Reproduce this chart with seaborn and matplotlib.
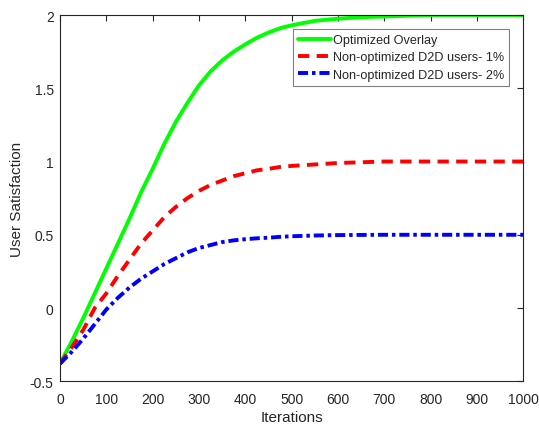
import numpy as np
import pandas as pd
import matplotlib
matplotlib.use("Agg")
import matplotlib.pyplot as plt
import seaborn as sns
from matplotlib.lines import Line2D

iterations = [0, 25, 50, 75, 100, 125, 150, 175, 200, 225, 250, 275, 300, 325, 350, 375,
              400, 425, 450, 475, 500, 550, 600, 650, 700, 800, 900, 1000]
optimized = [-0.38, -0.23, -0.07, 0.10, 0.27, 0.44, 0.61, 0.79, 0.95, 1.12, 1.27, 1.40,
             1.52, 1.615, 1.69, 1.75, 1.80, 1.845, 1.88, 1.91, 1.93, 1.96, 1.975, 1.985,
             1.99, 2.0, 2.0, 2.0]
nonopt_1 = [-0.38, -0.27, -0.15, 0.0, 0.10, 0.22, 0.33, 0.44, 0.53, 0.62, 0.69, 0.75,
            0.80, 0.84, 0.87, 0.90, 0.92, 0.94, 0.95, 0.963, 0.97, 0.98, 0.99, 0.995,
            1.0, 1.0, 1.0, 1.0]
nonopt_2 = [-0.38, -0.30, -0.21, -0.11, -0.01, 0.07, 0.14, 0.20, 0.25, 0.30, 0.34, 0.38,
            0.41, 0.43, 0.45, 0.462, 0.47, 0.476, 0.48, 0.486, 0.49, 0.495, 0.498,
            0.499, 0.5, 0.5, 0.5, 0.5]

labels = ["Optimized Overlay", "Non-optimized D2D users- 1%", "Non-optimized D2D users- 2%"]
colors = ["#00ff00", "#ff0000", "#0000ff"]
x_ticks = [0, 100, 200, 300, 400, 500, 600, 700, 800, 900, 1000]
y_ticks = [-0.5, 0, 0.5, 1, 1.5, 2]
y_ticklabels = ["-0.5", "0", "0.5", "1", "1.5", "2"]

n = len(iterations)
df = pd.DataFrame({
    "Iterations": iterations * 3,
    "User Satisfaction": optimized + nonopt_1 + nonopt_2,
    "series": [labels[0]] * n + [labels[1]] * n + [labels[2]] * n,
})

sns.set_style("white")
plt.rcParams["font.family"] = ["Liberation Sans", "DejaVu Sans"]
plt.rcParams["font.size"] = 10

fig = plt.figure(figsize=(5.39, 4.27), dpi=100)
ax = fig.add_axes([0.1113, 0.1047, 0.8596, 0.8578])

lw = 2.8
red_dash = (2.9, 1.9)
blue_dash = (2.6, 1.0, 0.9, 1.0)
sns.lineplot(data=df, x="Iterations", y="User Satisfaction", hue="series",
             palette=dict(zip(labels, colors)), ax=ax, linewidth=lw, legend=False)
lines = ax.get_lines()
for ln in lines:
    ln.set_solid_joinstyle("round")
    ln.set_dash_joinstyle("round")
lines[0].set_linestyle("-")
lines[1].set_dashes(red_dash)
lines[2].set_dashes(blue_dash)

ax.set_xlim(0, 1000)
ax.set_ylim(-0.5, 2)
ax.set_xticks(x_ticks)
ax.set_yticks(y_ticks)
ax.set_yticklabels(y_ticklabels)
axcol = "#262626"
for s in ax.spines.values():
    s.set_visible(True)
    s.set_color(axcol)
    s.set_linewidth(0.8)
ax.tick_params(direction="in", length=4, width=0.8, top=True, right=True,
               colors=axcol, labelcolor=axcol, labelsize=10)
ax.tick_params(axis="x", pad=7.5)
ax.tick_params(axis="y", pad=4.5)
ax.set_xlabel("Iterations", fontsize=11, color=axcol, labelpad=3)
ax.set_ylabel("User Satisfaction", fontsize=11, color=axcol, labelpad=4)

handles = [
    Line2D([], [], color=colors[0], linewidth=lw, linestyle="-"),
    Line2D([], [], color=colors[1], linewidth=lw, dashes=red_dash),
    Line2D([], [], color=colors[2], linewidth=lw, dashes=blue_dash),
]
leg = ax.legend(handles, labels, loc="upper right", bbox_to_anchor=(0.970, 0.962),
                borderaxespad=0, frameon=True, fancybox=False, framealpha=1,
                edgecolor="#808080", fontsize=9.1, handlelength=2.6, handletextpad=0.15,
                labelspacing=0.42, borderpad=0.4)
leg.get_frame().set_linewidth(0.8)

fig.savefig("out.png", dpi=100, facecolor="white")
